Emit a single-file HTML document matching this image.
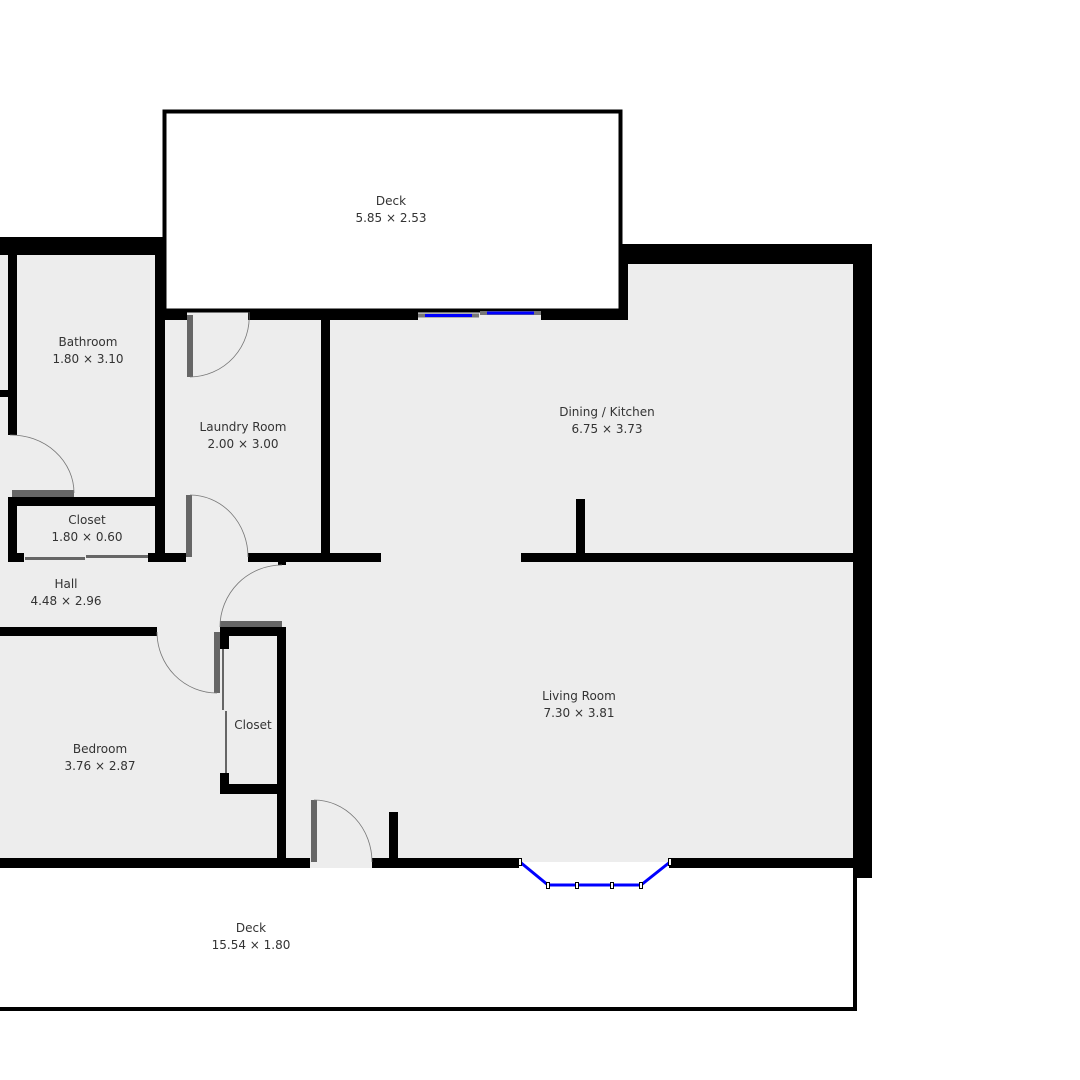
<!DOCTYPE html>
<html><head><meta charset="utf-8"><style>
html,body{margin:0;padding:0;background:#fff;}
svg{display:block;}
text{font-family:"DejaVu Sans","Liberation Sans",sans-serif;font-size:12px;fill:#333;text-anchor:middle;}
</style></head><body>
<svg width="1080" height="1080" viewBox="0 0 1080 1080" xmlns="http://www.w3.org/2000/svg">
<!-- floor -->
<polygon points="0,255 163,255 163,312 622,312 622,264 855,264 855,862 0,862" fill="#ededed"/>
<rect x="310" y="858" width="62" height="10" fill="#ededed"/>
<!-- top deck -->
<rect x="164.5" y="111.5" width="456" height="199" fill="none" stroke="#000" stroke-width="4"/>
<!-- bottom deck -->
<polyline points="0,1009 855,1009 855,866" fill="none" stroke="#000" stroke-width="4"/>
<g fill="#000">
<!-- thick outer walls -->
<rect x="0" y="237" width="165" height="18"/>
<rect x="620" y="244" width="252" height="20"/>
<rect x="853" y="244" width="19" height="634"/>
<rect x="620" y="244" width="8" height="76"/>
<!-- dining top wall -->
<rect x="163" y="310" width="24" height="10"/>
<rect x="248" y="310" width="170" height="10"/>
<rect x="541" y="310" width="87" height="10"/>
<!-- bathroom -->
<rect x="8" y="255" width="9" height="180"/>
<rect x="0" y="390" width="8" height="7"/>
<rect x="155" y="237" width="10" height="323"/>
<rect x="321" y="318" width="9" height="237"/>
<!-- closet 1 -->
<rect x="8" y="497" width="152" height="9"/>
<rect x="8" y="497" width="9" height="65"/>
<rect x="8" y="553" width="16" height="9"/>
<rect x="148" y="553" width="38" height="9"/>
<!-- laundry bottom -->
<rect x="248" y="553" width="133" height="9"/>
<rect x="278" y="560" width="8" height="5"/>
<rect x="521" y="553" width="332" height="9"/>
<rect x="576" y="499" width="9" height="55"/>
<!-- hall bottom -->
<rect x="0" y="627" width="157" height="9"/>
<!-- closet 2 -->
<rect x="220" y="627" width="66" height="9"/>
<rect x="220" y="627" width="9" height="22"/>
<rect x="220" y="773" width="9" height="21"/>
<rect x="220" y="784" width="66" height="10"/>
<rect x="277" y="627" width="9" height="235"/>
<!-- bottom wall -->
<rect x="0" y="858" width="310" height="10"/>
<rect x="372" y="858" width="147" height="10"/>
<rect x="669" y="858" width="186" height="10"/>
<rect x="389" y="812" width="9" height="48"/>
</g>
<!-- door leaves -->
<g fill="#666">
<rect x="187" y="315" width="6" height="62"/>
<rect x="186" y="495" width="6" height="62"/>
<rect x="12" y="490" width="62" height="7"/>
<rect x="214" y="632" width="6" height="61"/>
<rect x="220" y="621" width="62" height="6"/>
<rect x="311" y="800" width="6" height="62"/>
<rect x="25" y="557" width="60" height="3"/>
<rect x="86" y="555" width="62" height="3"/>
<rect x="222" y="649" width="2" height="61"/>
<rect x="225" y="711" width="2" height="62"/>
</g>
<!-- arcs -->
<g fill="none" stroke="#777" stroke-width="0.8">
<path d="M190,377 A60,60 0 0 0 249,312"/>
<path d="M190,495 A58,62 0 0 1 248,557"/>
<path d="M10,435 A63,58 0 0 1 74,493"/>
<path d="M157,632 A60,61 0 0 0 217,693"/>
<path d="M220,627 A62,62 0 0 1 282,565"/>
<path d="M314,800 A58,62 0 0 1 372,862"/>
</g>
<!-- windows -->
<g stroke-linecap="butt">
<line x1="418" y1="315.5" x2="479" y2="315.5" stroke="#777" stroke-width="4"/>
<line x1="425" y1="315.5" x2="472" y2="315.5" stroke="#0000ff" stroke-width="3"/>
<line x1="480" y1="313" x2="541" y2="313" stroke="#777" stroke-width="4"/>
<line x1="487" y1="313" x2="534" y2="313" stroke="#0000ff" stroke-width="3"/>
<polyline points="520,862 548,885 577,885 612,885 641,885 670,862" fill="none" stroke="#0000ff" stroke-width="3"/>
</g>
<g fill="#fff" stroke="#000" stroke-width="1">
<rect x="518.5" y="858.5" width="3" height="7"/>
<rect x="546.5" y="882.5" width="3" height="6"/>
<rect x="575.5" y="882.5" width="3" height="6"/>
<rect x="610.5" y="882.5" width="3" height="6"/>
<rect x="639.5" y="882.5" width="3" height="6"/>
<rect x="668.5" y="858.5" width="3" height="7"/>
</g>
<!-- labels -->
<text x="391" y="205">Deck</text><text x="391" y="222">5.85 × 2.53</text>
<text x="88" y="346">Bathroom</text><text x="88" y="363">1.80 × 3.10</text>
<text x="243" y="431">Laundry Room</text><text x="243" y="448">2.00 × 3.00</text>
<text x="607" y="416">Dining / Kitchen</text><text x="607" y="433">6.75 × 3.73</text>
<text x="87" y="524">Closet</text><text x="87" y="541">1.80 × 0.60</text>
<text x="66" y="588">Hall</text><text x="66" y="605">4.48 × 2.96</text>
<text x="579" y="700">Living Room</text><text x="579" y="717">7.30 × 3.81</text>
<text x="253" y="729">Closet</text>
<text x="100" y="753">Bedroom</text><text x="100" y="770">3.76 × 2.87</text>
<text x="251" y="932">Deck</text><text x="251" y="949">15.54 × 1.80</text>
</svg>
</body></html>
